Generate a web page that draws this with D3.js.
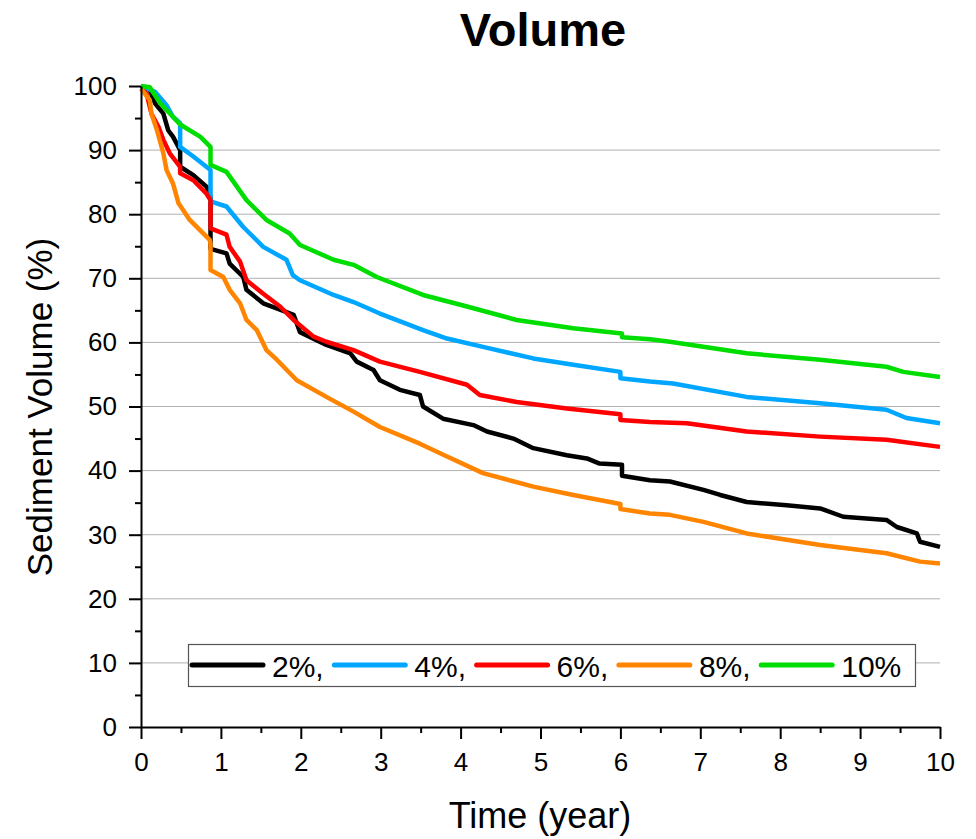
<!DOCTYPE html>
<html>
<head>
  <title>Volume</title>
  <style>
    body { margin: 0; background: #ffffff; }
    text { font-family: "Liberation Sans", Arial, sans-serif; }
  </style>
</head>
<body>
  <svg width="976" height="839" id="chart"></svg>

  <script src="https://cdnjs.cloudflare.com/ajax/libs/d3/7.8.5/d3.min.js"></script>
  <script>

// series: time (year) and sediment volume (%)
let names = ["2%,", "4%,", "6%,", "8%,", "10%"];
let colors = ["#000000", "#00a6ff", "#ff0000", "#ff8400", "#00dd00"];

let t2 = [0, 0.11, 0.175, 0.28, 0.34, 0.40, 0.49, 0.49, 0.655, 0.82, 0.87, 0.87, 1.07, 1.11, 1.28, 1.32, 1.53, 1.74, 1.91, 1.99, 2.32, 2.62, 2.70, 2.91, 2.99, 3.24, 3.49, 3.53, 3.78, 4.16, 4.33, 4.66, 4.91, 5.33, 5.58, 5.74, 6.02, 6.02, 6.37, 6.62, 7.04, 7.25, 7.58, 8.08, 8.5, 8.79, 9.33, 9.46, 9.71, 9.75, 10];
let v2 = [100, 99.4, 97.3, 95.7, 93.1, 92.1, 90.0, 87.4, 86.1, 84.3, 82.7, 74.6, 73.9, 72.3, 70.2, 68.2, 66.1, 65.1, 64.3, 61.6, 59.6, 58.3, 57.0, 55.7, 54.1, 52.6, 51.8, 50.0, 48.1, 47.1, 46.1, 45.0, 43.5, 42.4, 41.9, 41.1, 40.9, 39.2, 38.5, 38.3, 37.0, 36.2, 35.1, 34.6, 34.1, 32.8, 32.3, 31.2, 30.2, 28.9, 28.1];

let t4 = [0, 0.175, 0.32, 0.40, 0.49, 0.49, 0.655, 0.87, 0.87, 1.07, 1.28, 1.53, 1.82, 1.90, 1.99, 2.41, 2.66, 2.99, 3.53, 3.83, 4.28, 4.91, 5.41, 6.0, 6.0, 6.37, 6.66, 7.58, 8.5, 9.33, 9.58, 10];
let v4 = [100, 99.1, 97.0, 95.2, 94.2, 90.5, 89.0, 86.9, 82.0, 81.2, 78.0, 74.9, 72.9, 70.5, 69.7, 67.4, 66.3, 64.5, 61.9, 60.6, 59.3, 57.5, 56.5, 55.4, 54.4, 53.9, 53.6, 51.5, 50.5, 49.5, 48.2, 47.4];

let t6 = [0, 0.07, 0.13, 0.22, 0.28, 0.36, 0.49, 0.49, 0.655, 0.82, 0.87, 0.87, 1.07, 1.11, 1.24, 1.32, 1.53, 1.74, 1.91, 2.16, 2.32, 2.66, 2.99, 3.49, 4.08, 4.24, 4.70, 5.33, 6.0, 6.0, 6.37, 6.83, 7.58, 8.5, 9.33, 10];
let v6 = [99.6, 98.8, 95.7, 93.6, 91.6, 89.5, 87.4, 86.4, 85.3, 83.2, 82.2, 77.8, 76.8, 74.9, 72.6, 69.7, 67.6, 65.6, 63.5, 60.9, 60.1, 58.8, 57.0, 55.4, 53.4, 51.8, 50.7, 49.7, 48.8, 47.9, 47.6, 47.4, 46.1, 45.3, 44.8, 43.7];

let t8 = [0, 0.11, 0.13, 0.20, 0.28, 0.32, 0.40, 0.47, 0.61, 0.86, 0.87, 0.87, 1.03, 1.11, 1.24, 1.32, 1.45, 1.57, 1.70, 1.95, 2.32, 2.66, 2.99, 3.49, 3.83, 4.28, 4.91, 5.41, 6.0, 6.0, 6.37, 6.62, 7.04, 7.58, 8.08, 8.5, 9.33, 9.75, 10];
let v8 = [99.6, 97.8, 95.7, 93.1, 89.5, 86.9, 84.8, 81.7, 79.1, 76.0, 75.4, 71.3, 70.2, 68.2, 66.1, 63.5, 61.9, 58.8, 57.3, 54.1, 51.5, 49.2, 46.8, 44.2, 42.2, 39.6, 37.5, 36.2, 34.8, 34.0, 33.3, 33.1, 32.0, 30.2, 29.2, 28.4, 27.1, 25.8, 25.5];

let t10 = [0, 0.11, 0.24, 0.49, 0.74, 0.87, 0.87, 1.07, 1.32, 1.57, 1.86, 1.99, 2.41, 2.66, 2.95, 3.53, 4.08, 4.70, 5.41, 6.02, 6.02, 6.37, 6.62, 7.58, 8.5, 9.33, 9.54, 10];
let v10 = [100, 99.8, 97.3, 94.0, 92.1, 90.5, 87.7, 86.6, 82.2, 79.1, 77.0, 75.2, 72.9, 72.1, 70.2, 67.4, 65.6, 63.5, 62.2, 61.4, 60.8, 60.5, 60.1, 58.3, 57.3, 56.2, 55.4, 54.6];

let xTicks = [0, 1, 2, 3, 4, 5, 6, 7, 8, 9, 10];
let yTicks = [0, 10, 20, 30, 40, 50, 60, 70, 80, 90, 100];

let times = [t2, t4, t6, t8, t10];
let values = [v2, v4, v6, v8, v10];

let series = names.map(function(n, i) {
  return {
    name: n,
    color: colors[i],
    points: times[i].map(function(t, j) { return [t, values[i][j]]; })
  };
});

let plotLeft = 141, plotRight = 940, plotTop = 86, plotBottom = 727;

let svg = d3.select("#chart");

let x = d3.scaleLinear().domain([0, 10]).range([plotLeft, plotRight]);
let y = d3.scaleLinear().domain([0, 100]).range([plotBottom, plotTop]);

// grid lines
svg.append("g")
  .selectAll("line")
  .data(yTicks.filter(function(d) { return d > 0 && d < 100; }))
  .enter()
  .append("line")
  .attr("x1", plotLeft)
  .attr("x2", plotRight)
  .attr("y1", function(d) { return y(d); })
  .attr("y2", function(d) { return y(d); })
  .style("stroke", "#b0b0b0")
  .style("stroke-width", 1);

// minor ticks
svg.append("g")
  .attr("transform", "translate(0," + plotBottom + ")")
  .call(d3.axisBottom(x).tickValues(d3.range(0.5, 10, 1)).tickSize(6).tickFormat(""))
  .call(function(g) { g.select(".domain").remove(); })
  .selectAll("line").style("stroke-width", 2);

svg.append("g")
  .attr("transform", "translate(" + plotLeft + ",0)")
  .call(d3.axisLeft(y).tickValues(d3.range(5, 100, 10)).tickSize(6).tickFormat(""))
  .call(function(g) { g.select(".domain").remove(); })
  .selectAll("line").style("stroke-width", 2);

// lines
let line = d3.line()
  .x(function(d) { return x(d[0]); })
  .y(function(d) { return y(d[1]); });

svg.append("g")
  .selectAll("path")
  .data(series)
  .enter()
  .append("path")
  .attr("d", function(d) { return line(d.points); })
  .style("fill", "none")
  .style("stroke", function(d) { return d.color; })
  .style("stroke-width", 4.5)
  .style("stroke-linejoin", "round");

// main axes
let xAxis = svg.append("g")
  .attr("transform", "translate(0," + plotBottom + ")")
  .call(d3.axisBottom(x).tickValues(xTicks).tickSize(12).tickSizeOuter(0).tickPadding(14));

let yAxis = svg.append("g")
  .attr("transform", "translate(" + plotLeft + ",0)")
  .call(d3.axisLeft(y).tickValues(yTicks).tickSize(12).tickSizeOuter(0).tickPadding(12));

[xAxis, yAxis].forEach(function(g) {
  g.select(".domain").style("stroke-width", 2);
  g.selectAll(".tick line").style("stroke-width", 2);
  g.selectAll(".tick text")
    .style("font-family", "'Liberation Sans', Arial, sans-serif")
    .style("font-size", "26px")
    .style("fill", "#000");
});

// legend
let legend = svg.append("g").attr("id", "legend");
legend.append("rect")
  .attr("x", 188.5)
  .attr("y", 644.5)
  .attr("width", 727)
  .attr("height", 42)
  .style("fill", "#ffffff")
  .style("stroke", "#555555")
  .style("stroke-width", 1.2);

let items = legend.selectAll("g.item")
  .data(series)
  .enter()
  .append("g")
  .attr("class", "item")
  .attr("transform", function(d, i) { return "translate(" + (192 + i * 142.3) + ",665)"; });

items.append("line")
  .attr("x1", 0)
  .attr("x2", 71)
  .style("stroke", function(d) { return d.color; })
  .style("stroke-width", 5)
  .style("stroke-linecap", "round");

items.append("text")
  .attr("x", 80)
  .attr("y", 11.5)
  .style("font-size", "30px")
  .text(function(d) { return d.name; });

// titles
svg.append("text")
  .attr("x", 543)
  .attr("y", 46)
  .attr("text-anchor", "middle")
  .style("font-size", "47px")
  .style("font-weight", "bold")
  .text("Volume");

svg.append("text")
  .attr("x", 540)
  .attr("y", 828)
  .attr("text-anchor", "middle")
  .style("font-size", "36px")
  .text("Time (year)");

svg.append("text")
  .attr("transform", "translate(52,407) rotate(-90)")
  .attr("text-anchor", "middle")
  .style("font-size", "35px")
  .text("Sediment Volume (%)");

  </script>
</body>
</html>
